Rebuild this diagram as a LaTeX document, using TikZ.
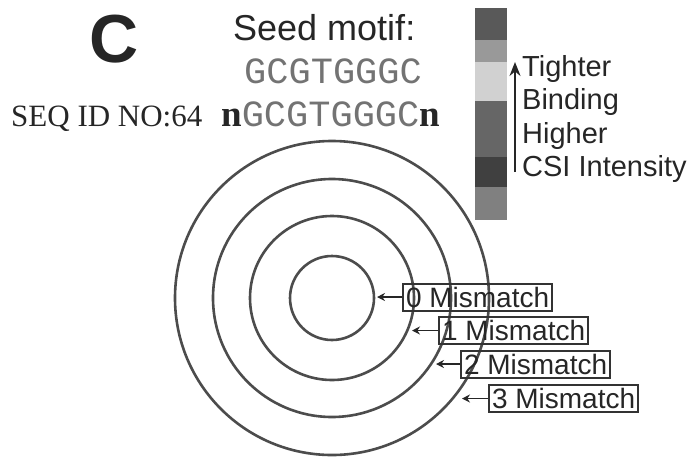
\documentclass[tikz,border=0pt]{standalone}
\usepackage{fontspec}
\setmainfont{Liberation Sans}
\newfontfamily\seqfont{Liberation Serif}
\newfontfamily\motiffont{Liberation Mono}
\usetikzlibrary{arrows.meta,positioning}
\tikzset{
  ring/.style={draw=black!70, line width=2.6pt},
  mbox/.style={draw=black!80, line width=2pt, anchor=west, inner sep=3pt,
    minimum height=27pt, text=black!85, font=\fontsize{28}{30}\selectfont},
  pointer/.style={-{Stealth[length=8pt,width=8pt]}, line width=1.6pt, black!85},
  uparrw/.style={-{Stealth[length=14pt,width=11pt]}, line width=1.6pt, black!85},
  plain/.style={inner sep=0pt, text=black!85},
}

\begin{document}
\begin{tikzpicture}[x=1pt, y=-1pt]
  \useasboundingbox (0,0) rectangle (700,458);

  % panel letter and motif
  \node[plain, anchor=base west, font=\fontsize{68}{70}\selectfont\bfseries] (panel) at (89,62) {C};
  \node[plain, anchor=base west, font=\fontsize{36}{38}\selectfont] (seed) at (233,40) {Seed motif:};
  \node[plain, anchor=base west, text=black!55, font=\fontsize{37}{38}\motiffont] (motif) at (244,83) {GCGTGGGC};
  \node[plain, anchor=base west, font=\fontsize{31}{33}\seqfont] (seqid) at (11,126) {SEQ ID NO:64};
  \node[plain, anchor=base west, font=\fontsize{37}{38}\motiffont] (probe) at (221,126)
    {{\seqfont\bfseries n}\textcolor{black!55}{GCGTGGGC}{\seqfont\bfseries n}};

  % intensity bar
  \foreach \ya/\yb/\shade in {8/40/65, 40/62/40, 62/101/18, 101/157/60, 157/187/75, 187/220/50}
    \fill[black!\shade] (475,\ya) rectangle (507,\yb);
  \coordinate (lo) at (515,172);
  \coordinate (hi) at (515,62);
  \draw[uparrw] (lo) -- (hi);
  \node[plain, anchor=north west, align=left, font=\fontsize{29}{33.5}\selectfont] (legend) at (522,55)
    {Tighter\\Binding\\Higher\\CSI Intensity};

  % mismatch rings
  \coordinate (ctr) at (332,298);
  \foreach \r in {42,82,119,157}
    \draw[ring] (ctr) circle[radius=\r];

  \node[mbox] (m0) at (402,297) {0 Mismatch};
  \node[mbox] (m1) at (438,330.5) {1 Mismatch};
  \node[mbox] (m2) at (460,364) {2 Mismatch};
  \node[mbox] (m3) at (488,398.5) {3 Mismatch};

  \coordinate (p0) at (377,297);
  \coordinate (p1) at (412,330.5);
  \coordinate (p2) at (436,364);
  \coordinate (p3) at (462,398.5);

  \draw[pointer] (m0) -- (p0);
  \draw[pointer] (m1) -- (p1);
  \draw[pointer] (m2) -- (p2);
  \draw[pointer] (m3) -- (p3);
\end{tikzpicture}
\end{document}
